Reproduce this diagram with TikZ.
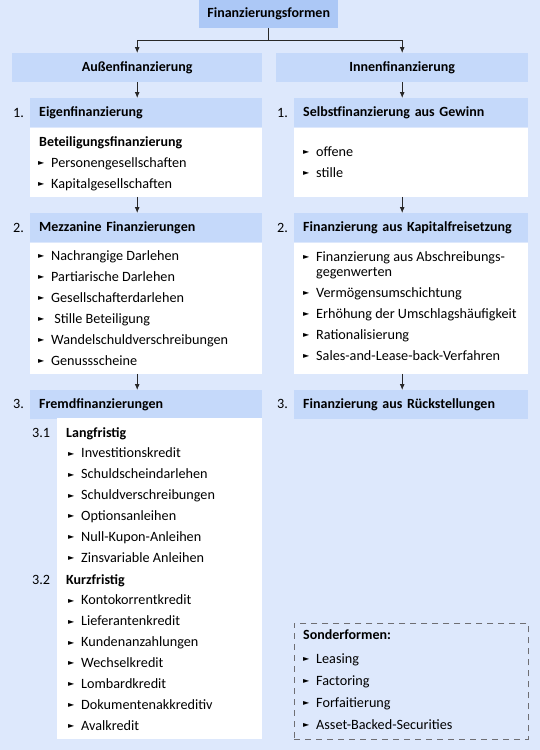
\documentclass[tikz,border=0pt]{standalone}
\usepackage{fontspec}
\setmainfont{Carlito}
\newfontfamily\symfont{DejaVu Sans}
\usetikzlibrary{arrows.meta,positioning}
\definecolor{bgblue}{RGB}{221,232,252}
\definecolor{headblue}{RGB}{197,217,250}
\definecolor{topblue}{RGB}{172,200,246}
\definecolor{linegray}{RGB}{40,40,40}
\definecolor{dashgray}{RGB}{110,110,115}
\newcommand{\tri}{\makebox[13pt][l]{\raisebox{1.7pt}{\symfont\fontsize{8}{8}\selectfont ►}}}

\begin{document}
\begin{tikzpicture}[x=1pt, y=-1pt, >={Latex[length=6pt,width=5pt]},
    font=\fontsize{14.2}{16}\selectfont,
    head/.style={fill=headblue, minimum height=29pt, inner ysep=0pt, anchor=north west,
      font=\fontsize{14}{16}\selectfont\bfseries},
    lhead/.style={head, text width=214pt, inner xsep=9pt, align=left},
    rhead/.style={head, text width=216pt, inner xsep=9pt, align=left},
    body/.style={fill=white, inner sep=0pt, anchor=north west},
    num/.style={anchor=west, inner sep=0pt},
    item/.style={anchor=base west, inner sep=0pt},
    bolditem/.style={item, font=\fontsize{14}{16}\selectfont\bfseries},
    conn/.style={->, draw=linegray, line width=0.8pt}]
  \fill[bgblue] (0,0) rectangle (540,750);
  \useasboundingbox (0,0) rectangle (540,750);

  % top level
  \node[head, fill=topblue, minimum width=139pt, minimum height=28pt] (top) at (199,0) {Finanzierungsformen};
  \node[head, minimum width=250pt] (aussen) at (12,53) {Au\ss enfinanzierung};
  \node[head, minimum width=252pt] (innen) at (276,53) {Innenfinanzierung};
  \draw[conn] (top.south) -- ++(0,12) -| (aussen.north);
  \draw[conn] (top.south) -- ++(0,12) -| (innen.north);

  % left column
  \node[lhead] (eigen) at (30,98) {Eigenfinanzierung};
  \node[body, minimum width=232pt, minimum height=69pt] (eigenb) at (eigen.south west) {};
  \node[lhead] (mezz) at (30,213) {Mezzanine Finanzierungen};
  \node[body, minimum width=232pt, minimum height=131pt] (mezzb) at (mezz.south west) {};
  \node[lhead] (fremd) at (30,390) {Fremdfinanzierungen};
  \node[body, minimum width=205pt, minimum height=321pt] (fremdb) at (57,418) {};
  \node[num] (n1) at (13,112.5) {1.};
  \node[num] (n2) at (13,227.5) {2.};
  \node[num] (n3) at (13,404) {3.};
  \draw[conn] (aussen.south) -- (aussen.south |- eigen.north);
  \draw[conn] (aussen.south |- eigenb.south) -- (aussen.south |- mezz.north);
  \draw[conn] (aussen.south |- mezzb.south) -- (aussen.south |- fremd.north);

  \node[bolditem] (beteil) at (39,146) {Beteiligungsfinanzierung};
  \node[item] (pers) at (38,167) {\tri Personengesellschaften};
  \node[item] (kapg) at (38,188) {\tri Kapitalgesellschaften};
  \foreach \t [count=\i] in {Nachrangige Darlehen, Partiarische Darlehen,
      Gesellschafterdarlehen, {\ Stille Beteiligung}, Wandelschuldverschreibungen, Genussscheine}
    \node[item] (mz\i) at (38,239+21*\i) {\tri\t};

  \node[item] (n31) at (32,437) {3.1};
  \node[bolditem] (lang) at (66,437) {Langfristig};
  \foreach \t [count=\i] in {Investitionskredit, Schuldscheindarlehen, Schuldverschreibungen,
      Optionsanleihen, Null-Kupon-Anleihen, Zinsvariable Anleihen}
    \node[item] (lf\i) at (68,437+20.9*\i) {\tri\t};
  \node[item] (n32) at (32,584) {3.2};
  \node[bolditem] (kurz) at (66,584) {Kurzfristig};
  \foreach \t [count=\i] in {Kontokorrentkredit, Lieferantenkredit, Kundenanzahlungen,
      Wechselkredit, Lombardkredit, Dokumentenakkreditiv, Avalkredit}
    \node[item] (kf\i) at (68,584+20.9*\i) {\tri\t};

  % right column
  \node[rhead] (selbst) at (294,98) {Selbstfinanzierung aus Gewinn};
  \node[body, minimum width=234pt, minimum height=69pt] (selbstb) at (selbst.south west) {};
  \node[rhead] (kapfrei) at (294,213) {Finanzierung aus Kapitalfreisetzung};
  \node[body, minimum width=234pt, minimum height=131pt] (kapfreib) at (kapfrei.south west) {};
  \node[rhead] (rueck) at (294,390) {Finanzierung aus R\"uckstellungen};
  \node[num] (m1) at (277,112.5) {1.};
  \node[num] (m2) at (277,227.5) {2.};
  \node[num] (m3) at (277,404) {3.};
  \draw[conn] (innen.south) -- (innen.south |- selbst.north);
  \draw[conn] (innen.south |- selbstb.south) -- (innen.south |- kapfrei.north);
  \draw[conn] (innen.south |- kapfreib.south) -- (innen.south |- rueck.north);

  \node[item] (offen) at (303,156.5) {\tri offene};
  \node[item] (still) at (303,177.5) {\tri stille};
  \node[item] (abschr) at (303,261) {\tri Finanzierung aus Abschreibungs-};
  \node[item] (gegen) at (316,276) {gegenwerten};
  \foreach \t [count=\i] in {Verm\"ogensumschichtung, Erh\"ohung der Umschlagsh\"aufigkeit,
      Rationalisierung, Sales-and-Lease-back-Verfahren}
    \node[item] (kp\i) at (303,276+21*\i) {\tri\t};

  % special forms
  \node[anchor=north west, draw=dashgray, line width=0.8pt, dash pattern=on 6pt off 5pt,
    minimum width=234pt, minimum height=116pt] (sonder) at (294,623) {};
  \node[bolditem] (sondert) at (303,639.5) {Sonderformen:};
  \foreach \t [count=\i] in {Leasing, Factoring, Forfaitierung, Asset-Backed-Securities}
    \node[item] (sf\i) at (303,641.5+22*\i) {\tri\t};
\end{tikzpicture}
\end{document}
